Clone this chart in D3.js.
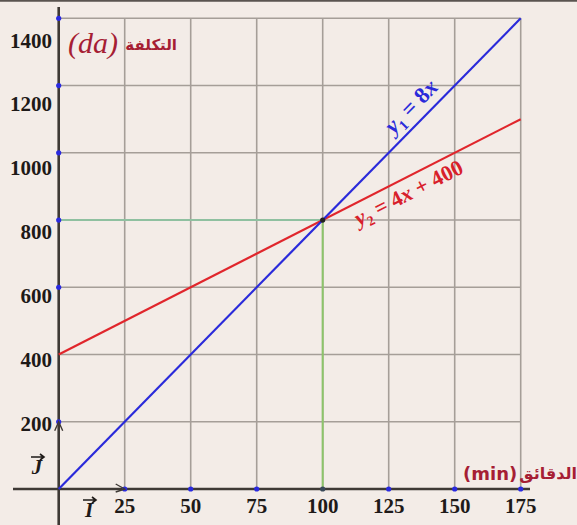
<!DOCTYPE html>
<html>
<head>
<meta charset="utf-8">
<script src="https://cdn.jsdelivr.net/npm/d3@7"></script>
<style>
  html, body { margin: 0; padding: 0; background: #f3ece7; }
  svg { display: block; }
</style>
</head>
<body>
<div id="chart"></div>
<script>
// Cost (da) versus minutes for two tariffs
const xTicks = [25, 50, 75, 100, 125, 150, 175];
const yTicks = [200, 400, 600, 800, 1000, 1200, 1400];
const minutes = [0, 175];
const costY1 = [0, 1400];      // y1 = 8x
const costY2 = [400, 1100];    // y2 = 4x + 400
const meetX = 100;
const meetY = 800;

const W = 577, H = 525;
const svg = d3.select("#chart").append("svg")
  .attr("width", W).attr("height", H);

svg.append("rect").attr("width", W).attr("height", H).attr("fill", "#f3ece7");
svg.append("line").attr("x1", 0).attr("x2", W).attr("y1", 0.8).attr("y2", 0.8)
  .attr("stroke", "#5a5450").attr("stroke-width", 2);

const x = d3.scaleLinear().domain([0, 175]).range([58.7, 520.7]);
const y = d3.scaleLinear().domain([0, 1400]).range([489, 18.3]);
// tick labels on the vertical axis sit slightly lower toward the top
const yLab = d3.scaleLinear().domain([200, 1400]).range([y(200) + 1.5, y(1400) + 22]);

const gridColor = "#a59e98";
// grid
svg.append("g").selectAll("line").data(xTicks).join("line")
  .attr("x1", d => x(d)).attr("x2", d => x(d))
  .attr("y1", y(1400)).attr("y2", y(0))
  .attr("stroke", gridColor).attr("stroke-width", 1.6);
svg.append("g").selectAll("line").data(yTicks).join("line")
  .attr("x1", x(0)).attr("x2", x(175))
  .attr("y1", d => y(d)).attr("y2", d => y(d))
  .attr("stroke", gridColor).attr("stroke-width", 1.6);

// guide lines to the meeting point
svg.append("line").attr("x1", x(0)).attr("x2", x(meetX))
  .attr("y1", y(meetY)).attr("y2", y(meetY))
  .attr("stroke", "#8fc0a0").attr("stroke-width", 2);
svg.append("line").attr("x1", x(meetX)).attr("x2", x(meetX))
  .attr("y1", y(meetY)).attr("y2", y(0))
  .attr("stroke", "#8cc46a").attr("stroke-width", 2);

// axes
const axisColor = "#3e3935";
svg.append("line").attr("x1", 13).attr("x2", 530).attr("y1", y(0)).attr("y2", y(0))
  .attr("stroke", axisColor).attr("stroke-width", 2.6);
svg.append("line").attr("x1", x(0)).attr("x2", x(0)).attr("y1", 7).attr("y2", H)
  .attr("stroke", axisColor).attr("stroke-width", 2.6);

// lines
const line = d3.line().x(d => x(d[0])).y(d => y(d[1]));
svg.append("path").datum(minutes.map((m, i) => [m, costY2[i]]))
  .attr("d", line).attr("fill", "none").attr("stroke", "#e0262c").attr("stroke-width", 2.2);
svg.append("path").datum(minutes.map((m, i) => [m, costY1[i]]))
  .attr("d", line).attr("fill", "none").attr("stroke", "#2a2ada").attr("stroke-width", 2.2);

// tick dots
svg.append("g").selectAll("circle").data(xTicks).join("circle")
  .attr("cx", d => x(d)).attr("cy", y(0)).attr("r", 2.6)
  .attr("fill", d => d === meetX ? "#3a4a5a" : "#2a2ae0");
svg.append("g").selectAll("circle").data(yTicks.filter(d => d !== 400)).join("circle")
  .attr("cx", x(0)).attr("cy", d => y(d)).attr("r", 2.6).attr("fill", "#2a2ae0");
svg.append("circle").attr("cx", x(meetX)).attr("cy", y(meetY)).attr("r", 2.6).attr("fill", "#222");

// unit vector arrowheads
svg.append("path")
  .attr("d", `M${x(0) - 4},${y(200) + 9} L${x(0)},${y(200)} L${x(0) + 4},${y(200) + 9}`)
  .attr("fill", "none").attr("stroke", axisColor).attr("stroke-width", 1.4);
svg.append("path")
  .attr("d", `M${x(25) - 9},${y(0) - 5} L${x(25)},${y(0)} L${x(25) - 9},${y(0) + 3}`)
  .attr("fill", "none").attr("stroke", axisColor).attr("stroke-width", 1.4);

const serif = "'Liberation Serif', 'Times New Roman', serif";
// tick labels
svg.append("g").selectAll("text").data(xTicks).join("text")
  .attr("x", d => x(d)).attr("y", 513)
  .attr("text-anchor", "middle")
  .attr("font-family", serif).attr("font-weight", "bold").attr("font-size", 21)
  .attr("fill", "#1e1a18")
  .text(d => d);
svg.append("g").selectAll("text").data(yTicks).join("text")
  .attr("x", 52).attr("y", d => yLab(d)).attr("dy", "0.35em")
  .attr("text-anchor", "end")
  .attr("font-family", serif).attr("font-weight", "bold").attr("font-size", 21)
  .attr("fill", "#1e1a18")
  .text(d => d);

// unit vector names
function vecLabel(cx, cy, letter) {
  const g = svg.append("g");
  g.append("text").attr("x", cx).attr("y", cy).attr("text-anchor", "middle")
    .attr("font-family", serif).attr("font-weight", "bold").attr("font-style", "italic")
    .attr("font-size", 21).attr("fill", "#1e1a18").text(letter);
  g.append("path")
    .attr("d", `M${cx - 6},${cy - 17} L${cx + 7},${cy - 17} M${cx + 3},${cy - 20} L${cx + 7},${cy - 17} L${cx + 3},${cy - 14}`)
    .attr("fill", "none").attr("stroke", "#1e1a18").attr("stroke-width", 1.6);
}
vecLabel(37, 474, "J");
vecLabel(89, 517, "I");

// axis titles
const titleRed = "#a61e34";
svg.append("text").attr("x", 68).attr("y", 53)
  .attr("font-family", serif).attr("font-style", "italic").attr("font-size", 30)
  .attr("fill", titleRed).text("(da)");
svg.append("text").attr("x", 177).attr("y", 50).attr("text-anchor", "end")
  .attr("font-family", "'DejaVu Sans', sans-serif").attr("font-weight", "bold").attr("font-size", 15)
  .attr("fill", titleRed).text("التكلفة");
svg.append("text").attr("x", 463).attr("y", 480)
  .attr("font-family", "'DejaVu Sans', sans-serif").attr("font-weight", "bold").attr("font-size", 18)
  .attr("fill", titleRed).text("(min)");
svg.append("text").attr("x", 577).attr("y", 479).attr("text-anchor", "end")
  .attr("font-family", "'DejaVu Sans', sans-serif").attr("font-weight", "bold").attr("font-size", 16)
  .attr("fill", titleRed).text("الدقائق");

// equation labels along the lines
function angleOf(vals) {
  const dx = x(minutes[1]) - x(minutes[0]);
  const dy = y(vals[1]) - y(vals[0]);
  return Math.atan2(dy, dx) * 180 / Math.PI;
}
function eqLabel(m, cost, ang, off, color, size, parts) {
  const t = svg.append("text")
    .attr("transform", `translate(${x(m)},${y(cost)}) rotate(${ang}) translate(0,${off})`)
    .attr("text-anchor", "middle")
    .attr("font-family", serif).attr("font-weight", "bold").attr("font-size", size)
    .attr("fill", color);
  parts.forEach(p => {
    const s = t.append("tspan").text(p.t);
    if (p.i) s.attr("font-style", "italic");
    if (p.sub) s.attr("font-size", size * 0.62).attr("dy", 5);
    if (p.up) s.attr("dy", -5);
  });
}
eqLabel(138, 1104, angleOf(costY1), -9, "#2a2ada", 23, [
  { t: "y", i: true }, { t: "1", sub: true }, { t: " = 8", up: true }, { t: "x", i: true }
]);
eqLabel(130, 920, angleOf(costY2), 22, "#d8202a", 22, [
  { t: "y", i: true }, { t: "2", sub: true }, { t: " = 4", up: true }, { t: "x", i: true }, { t: " + 400" }
]);
</script>
</body>
</html>
